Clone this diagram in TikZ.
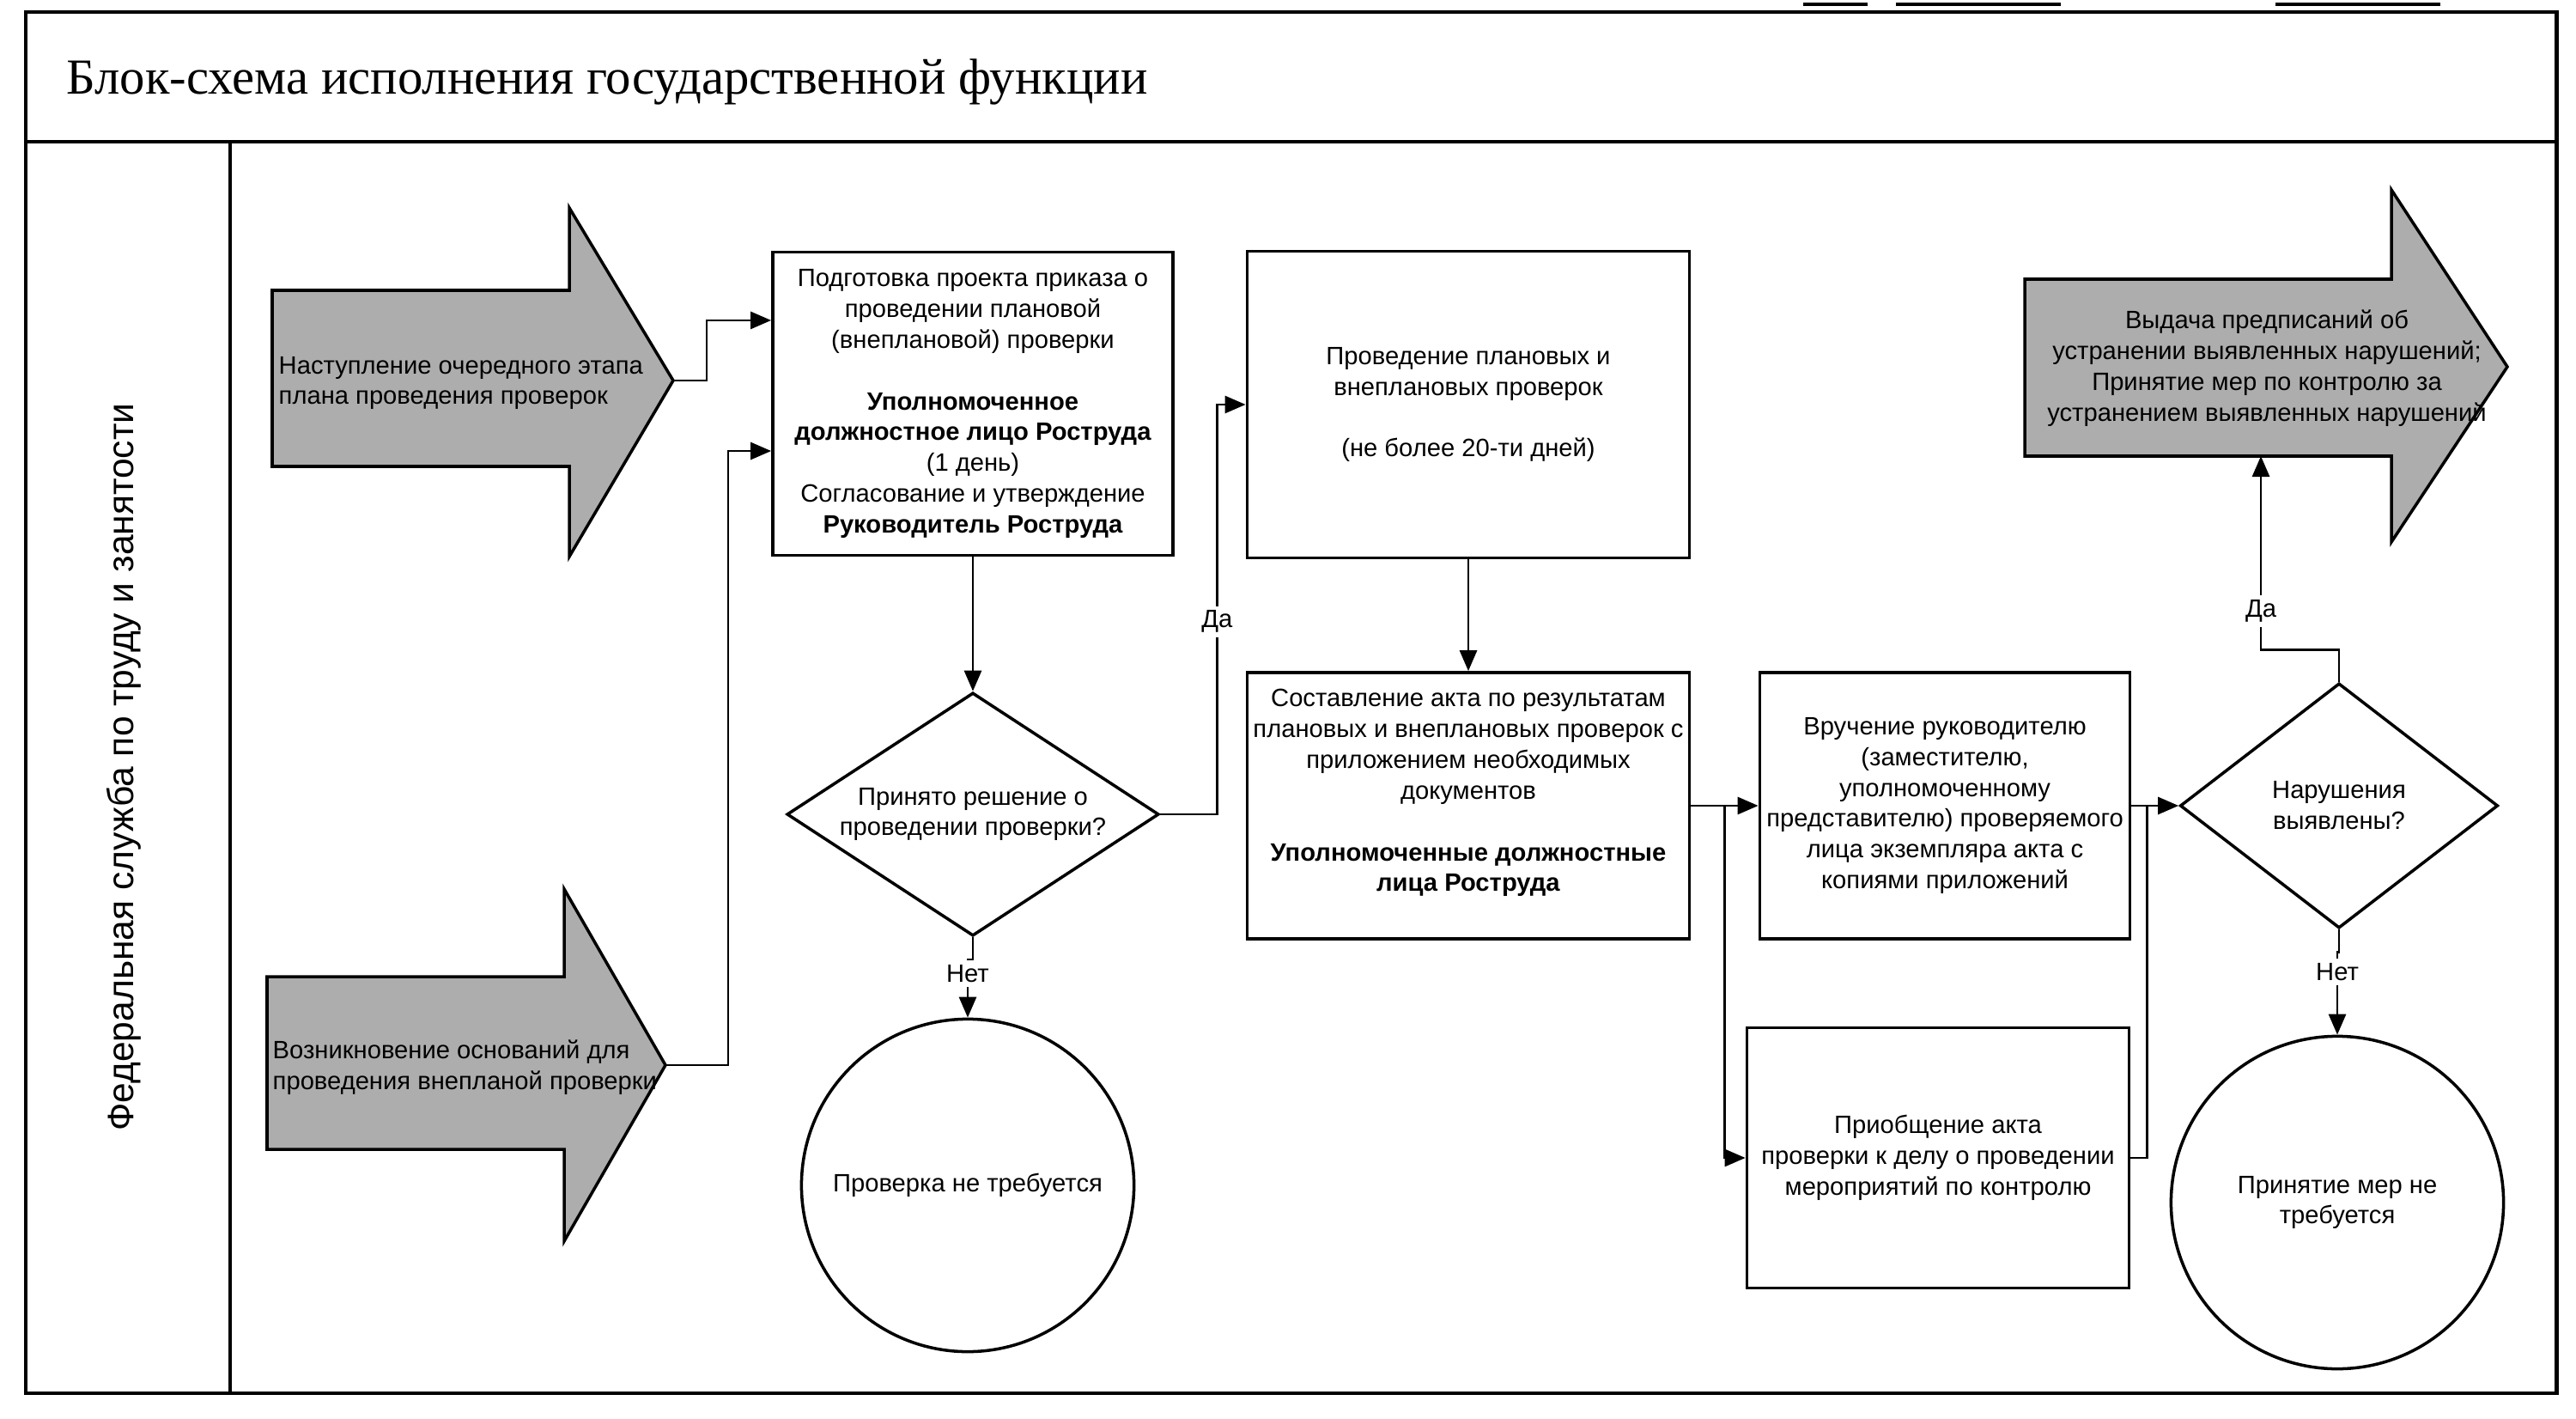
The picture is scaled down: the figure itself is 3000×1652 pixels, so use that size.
\documentclass[tikz,border=0pt]{standalone}
\usepackage{fontspec}
\setmainfont{Liberation Sans}
\newfontfamily\ttlfont{Liberation Serif}
\usetikzlibrary{shapes.geometric,arrows.meta,calc}

\begin{document}
\begin{tikzpicture}[x=0.01cm,y=-0.01cm,
    frame/.style={line width=1.4pt},
    txt/.style={font=\fontsize{8.3}{10.2}\selectfont},
    box/.style={draw,line width=1pt,align=center,txt,inner sep=2pt},
    decision/.style={draw,diamond,line width=1pt,align=center,txt,inner sep=0pt},
    terminal/.style={draw,circle,line width=1pt,align=center,txt,minimum size=3.87cm,inner sep=0pt},
    blockarrow/.style={draw,line width=1pt,fill=black!32},
    evtext/.style={txt,inner sep=0pt},
    conn/.style={line width=0.8pt,-{Triangle[length=2.4mm,width=2mm]}},
    wire/.style={line width=0.8pt},
    lbl/.style={txt,fill=white,inner sep=1.5pt}]
  \useasboundingbox (0,0) rectangle (3000,1652);

  % frame, header and lane
  \draw[frame] (30,14) rectangle (2977,1622);
  \draw[frame] (30,165) -- (2977,165);
  \draw[frame] (268,165) -- (268,1622);
  \draw[line width=1pt] (2100,5) -- (2175,5);
  \draw[line width=1pt] (2208,5) -- (2400,5);
  \draw[line width=1pt] (2650,5) -- (2842,5);
  \node[anchor=west,inner sep=0pt,font=\ttlfont\fontsize{16.7}{19}\selectfont] (title) at (77,95)
    {Блок-схема исполнения государственной функции};
  \node[rotate=90,font=\fontsize{12.1}{14}\selectfont] (lane) at (144,893)
    {Федеральная служба по труду и занятости};

  % events
  \draw[blockarrow] (317,338) -- (663,338) -- (663,242) -- (784,443) -- (663,648) -- (663,543) -- (317,543) -- cycle;
  \coordinate (ev1tip) at (784,443);
  \node[evtext,anchor=west,align=left] (ev1) at (324,446)
    {Наступление очередного этапа\\плана проведения проверок};
  \draw[blockarrow] (311,1137) -- (657,1137) -- (657,1035) -- (775,1240) -- (657,1445) -- (657,1338) -- (311,1338) -- cycle;
  \coordinate (ev2tip) at (775,1240);
  \node[evtext,anchor=west,align=left] (ev2) at (317,1243)
    {Возникновение оснований для\\проведения внепланой проверки};
  \draw[blockarrow] (2358,325) -- (2785,325) -- (2785,221) -- (2920,427) -- (2785,631) -- (2785,531) -- (2358,531) -- cycle;
  \coordinate (ev3in) at (2633,531);
  \node[evtext,align=center] (ev3) at (2640,429)
    {Выдача предписаний об\\устранении выявленных нарушений;\\Принятие мер по контролю за\\устранением выявленных нарушений};

  % steps
  \node[box,minimum width=4.66cm,minimum height=3.53cm] (prep) at (1133,470)
    {Подготовка проекта приказа о\\проведении плановой\\(внеплановой) проверки\\[10.2pt]
     \textbf{Уполномоченное}\\\textbf{должностное лицо Роструда}\\(1 день)\\
     Согласование и утверждение\\\textbf{Руководитель Роструда}};
  \node[decision,aspect=1.5,minimum width=4.33cm,minimum height=2.83cm] (dec1) at (1133,948)
    {Принято решение о\\проведении проверки?};
  \node[terminal] (circ1) at (1127,1380) {Проверка не требуется};
  \node[box,minimum width=5.15cm,minimum height=3.57cm] (check) at (1710,471)
    {Проведение плановых и\\внеплановых проверок\\[10.2pt](не более 20-ти дней)};
  \node[box,minimum width=5.14cm,minimum height=3.10cm] (act) at (1710,938)
    {Составление акта по результатам\\плановых и внеплановых проверок с\\приложением необходимых\\документов\\[10.2pt]
     \textbf{Уполномоченные должностные}\\\textbf{лица Роструда}\\\mbox{}};
  \node[box,minimum width=4.31cm,minimum height=3.10cm] (hand) at (2265,938)
    {Вручение руководителю\\(заместителю,\\уполномоченному\\представителю) проверяемого\\лица экземпляра акта с\\копиями приложений};
  \node[box,minimum width=4.45cm,minimum height=3.03cm] (file) at (2257,1348)
    {Приобщение акта\\проверки к делу о проведении\\мероприятий по контролю};
  \node[decision,aspect=1.3,minimum width=3.70cm,minimum height=2.85cm] (dec2) at (2724,938)
    {Нарушения\\выявлены?};
  \node[terminal] (circ2) at (2722,1400) {Принятие мер не\\требуется};

  % connectors
  \draw[conn] (ev1tip) -- ++(39,0) |- ([yshift=0.97cm]prep.west);
  \draw[conn] (ev2tip) -- ++(73,0) |- ([yshift=-0.55cm]prep.west);
  \draw[conn] (prep.south) -- (dec1.north);
  \draw[conn] (dec1.east) -- ++(66,0) |- node[lbl,pos=0.235]{Да} (check.west);
  \draw[conn] (dec1.south) -- ++(0,26) -| node[lbl,pos=0.62]{Нет} (circ1.north);
  \draw[conn] (check.south) -- (act.north);
  \draw[conn] (act.east) -- (hand.west);
  \draw[conn] ([xshift=0.39cm]act.east) |- (file.west);
  \draw[conn] (hand.east) -- (dec2.west);
  \draw[wire] (file.east) -| ([xshift=-0.37cm]dec2.west);
  \draw[conn] (dec2.north) -- ++(0,-37) -| node[lbl,pos=0.6]{Да} (ev3in);
  \draw[conn] (dec2.south) -- ++(0,26) -| node[lbl,pos=0.62]{Нет} (circ2.north);
\end{tikzpicture}
\end{document}
